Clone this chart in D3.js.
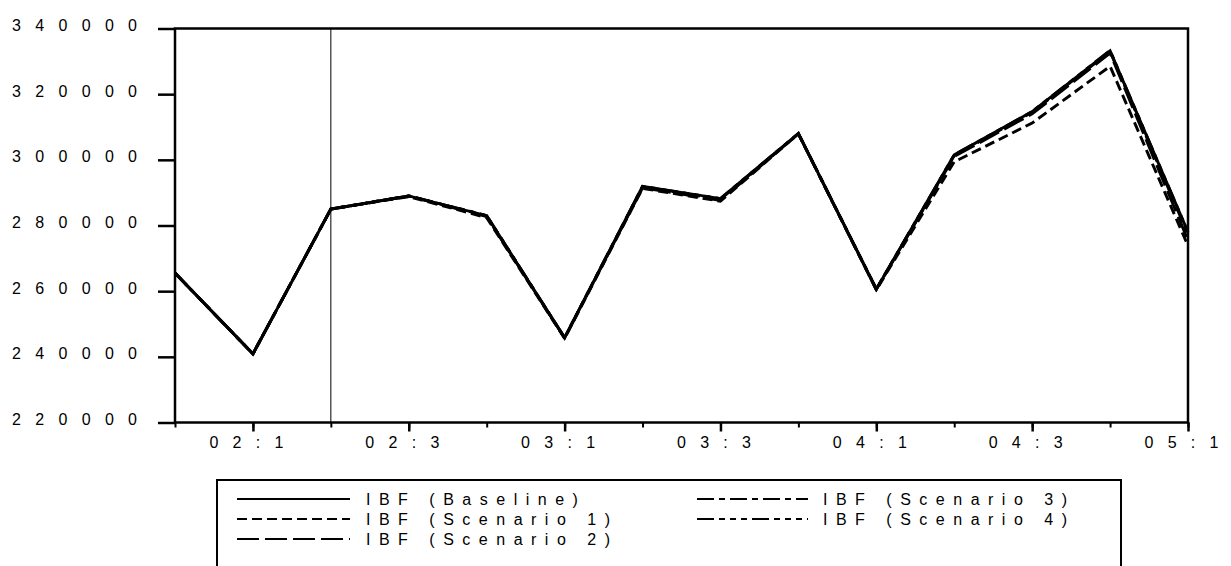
<!DOCTYPE html>
<html>
<head>
<meta charset="utf-8">
<script src="https://cdn.jsdelivr.net/npm/d3@7"></script>
<style>
  html, body { margin: 0; padding: 0; background: #fff; }
  svg { display: block; }
  text { font-family: "Liberation Sans", Arial, sans-serif; fill: #000; }
</style>
</head>
<body>
<svg id="chart" width="1231" height="566"></svg>
<script>
// ---- data ----
const periods = ["01:4","02:1","02:2","02:3","02:4","03:1","03:2","03:3","03:4","04:1","04:2","04:3","04:4","05:1"];
const tickLabels = ["02:1","02:3","03:1","03:3","04:1","04:3","05:1"];
const yTicks = [220000, 240000, 260000, 280000, 300000, 320000, 340000];
const forecastStart = "02:2";

const baseline  = [265500, 240900, 285000, 289000, 283000, 245800, 291900, 288200, 308000, 260600, 301500, 314700, 333200, 278000];
const scenario1 = [265500, 240900, 285000, 288800, 282400, 245600, 291300, 287400, 307900, 260400, 299400, 311200, 328500, 273800];
const scenario2 = [265500, 240900, 285000, 289000, 282700, 245800, 291500, 287600, 308000, 260600, 301000, 314000, 332500, 275500];
const scenario3 = [265500, 240900, 285000, 289000, 283000, 245800, 291800, 288000, 308000, 260600, 301300, 314500, 333000, 277300];
const scenario4 = [265500, 240900, 285000, 289000, 283000, 245800, 291900, 288200, 308000, 260600, 301500, 314700, 333300, 278000];

const seriesNames = ["IBF (Baseline)", "IBF (Scenario 1)", "IBF (Scenario 2)", "IBF (Scenario 3)", "IBF (Scenario 4)"];
const seriesValues = [baseline, scenario1, scenario2, scenario3, scenario4];
const dashes = [null, "10,5", "22,6", "17,5,6,5", "17,5,6,5,6,5,6,5"];

// ---- layout ----
const L = 175, R = 1188, T = 28.5, B = 422.5;
const svg = d3.select("#chart");

const x = d3.scalePoint().domain(periods).range([L, R]).padding(0);
const y = d3.scaleLinear().domain([220000, 340000]).range([B, T]);

// spread characters evenly (spacing only between glyphs)
function spread(sel, gap) {
  sel.each(function () {
    const t = d3.select(this);
    const n = t.text().length;
    const w = this.getComputedTextLength();
    t.attr("textLength", w + (n - 1) * gap).attr("lengthAdjust", "spacing");
  });
}

// forecast start line
svg.append("line")
  .attr("x1", x(forecastStart)).attr("x2", x(forecastStart))
  .attr("y1", T).attr("y2", B)
  .attr("stroke", "#000").attr("stroke-width", 1);

// series lines (dashed first, baseline last)
const line = d3.line().x((d, i) => x(periods[i])).y(d => y(d));
const order = [1, 2, 3, 4, 0];
order.forEach(k => {
  svg.append("path")
    .datum(seriesValues[k])
    .attr("d", line)
    .attr("fill", "none")
    .attr("stroke", "#000")
    .attr("stroke-width", 2.9)
    .attr("stroke-linejoin", "miter")
    .attr("stroke-dasharray", dashes[k]);
});

// frame
svg.append("rect")
  .attr("x", L).attr("y", T).attr("width", R - L).attr("height", B - T)
  .attr("fill", "none").attr("stroke", "#000").attr("stroke-width", 2.5);

const FS = 16, LS = 14.3;

// y axis
const yAxis = svg.append("g")
  .attr("transform", `translate(${L},0)`)
  .call(d3.axisLeft(y).tickValues(yTicks).tickSize(17).tickPadding(21).tickFormat(d3.format("d")));
yAxis.select(".domain").remove();
yAxis.selectAll(".tick line").attr("stroke", "#000").attr("stroke-width", 2.5);
yAxis.selectAll(".tick text")
  .attr("font-size", FS)
  .attr("font-family", "'Liberation Sans', Arial, sans-serif")
  .attr("dy", "0.12em")
  .attr("x", -38)
  .call(spread, LS);

// x axis minor ticks
const xMinor = svg.append("g")
  .attr("transform", `translate(0,${B})`)
  .call(d3.axisBottom(x).tickValues(periods).tickSize(5).tickFormat(""));
xMinor.select(".domain").remove();
xMinor.selectAll(".tick line").attr("stroke", "#000").attr("stroke-width", 2);

// x axis major ticks + labels
const xMajor = svg.append("g")
  .attr("transform", `translate(0,${B})`)
  .call(d3.axisBottom(x).tickValues(tickLabels).tickSize(9).tickPadding(5));
xMajor.select(".domain").remove();
xMajor.selectAll(".tick line").attr("stroke", "#000").attr("stroke-width", 2.5);
xMajor.selectAll(".tick text")
  .attr("font-size", FS)
  .attr("font-family", "'Liberation Sans', Arial, sans-serif")
  .attr("x", -7)
  .call(spread, LS);

// legend
const legend = svg.append("g");
legend.append("rect")
  .attr("x", 217).attr("y", 480).attr("width", 904).attr("height", 120)
  .attr("fill", "none").attr("stroke", "#000").attr("stroke-width", 2);
const legendPos = [
  {col: 0, row: 0}, {col: 0, row: 1}, {col: 0, row: 2}, {col: 1, row: 0}, {col: 1, row: 1}
];
const colX = [{x1: 237, x2: 350, tx: 366}, {x1: 697, x2: 808, tx: 823}];
const rowY = [499, 519, 539];
seriesNames.forEach((name, k) => {
  const p = legendPos[k];
  const c = colX[p.col];
  const yy = rowY[p.row];
  legend.append("line")
    .attr("x1", c.x1).attr("x2", c.x2).attr("y1", yy).attr("y2", yy)
    .attr("stroke", "#000").attr("stroke-width", 2)
    .attr("stroke-dasharray", dashes[k]);
  legend.append("text")
    .attr("x", c.tx).attr("y", yy + 5.5)
    .attr("font-size", FS)
    .text(name)
    .call(spread, 8.5);
});
</script>
</body>
</html>
